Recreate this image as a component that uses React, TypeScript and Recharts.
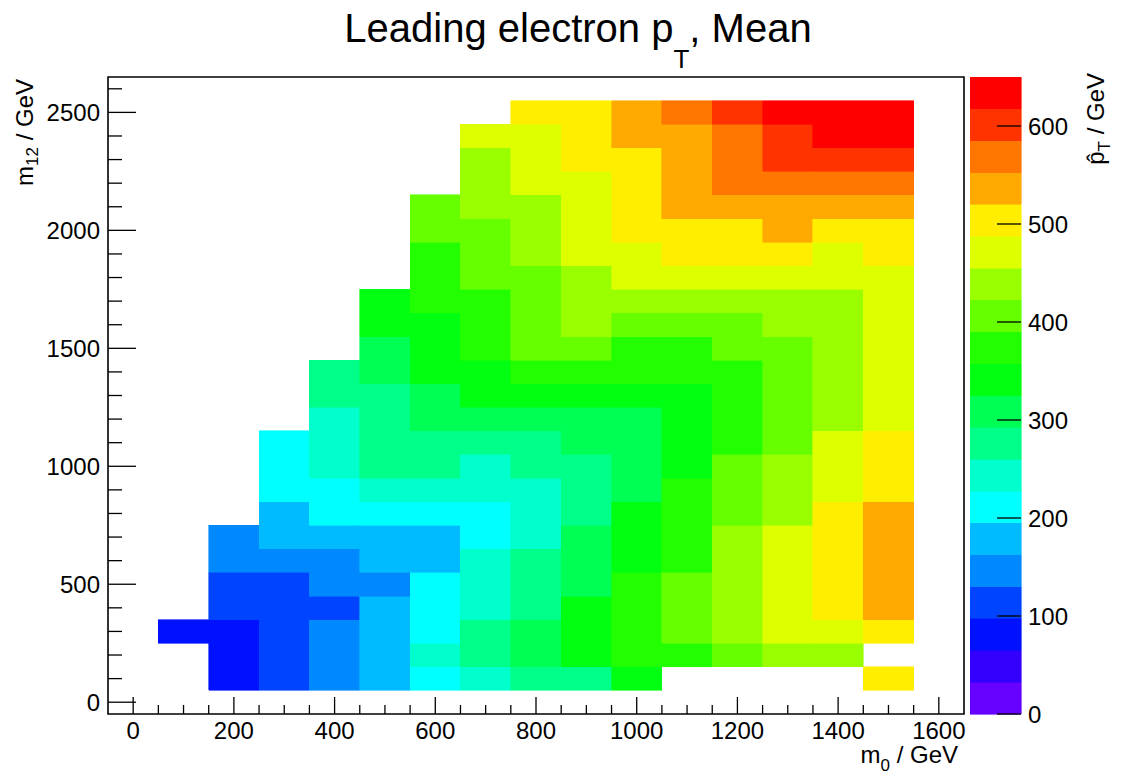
import React from 'react';
import { ComposedChart, XAxis, YAxis, Scatter, ReferenceArea } from 'recharts';

const FONT = '"Liberation Sans", Arial, Helvetica, sans-serif';

// bin centres
const m0Bins = [100, 200, 300, 400, 500, 600, 700, 800, 900, 1000, 1100, 1200, 1300, 1400, 1500];
const m12Bins = [
  100, 200, 300, 400, 500, 600, 700, 800, 900, 1000, 1100, 1200, 1300,
  1400, 1500, 1600, 1700, 1800, 1900, 2000, 2100, 2200, 2300, 2400, 2500,
];

const xTicks = [
  0, 50, 100, 150, 200, 250, 300, 350, 400, 450, 500, 550, 600, 650, 700, 750, 800,
  850, 900, 950, 1000, 1050, 1100, 1150, 1200, 1250, 1300, 1350, 1400, 1450, 1500, 1550, 1600,
];
const yTicks = [
  0, 100, 200, 300, 400, 500, 600, 700, 800, 900, 1000, 1100, 1200, 1300,
  1400, 1500, 1600, 1700, 1800, 1900, 2000, 2100, 2200, 2300, 2400, 2500, 2600,
];
const zTicks = [0, 100, 200, 300, 400, 500, 600];

// mean leading electron pT (GeV) per m0 column, from m12 = 100 (first) to 2500 (last)
const _ = null;
const pt_m0_100 = [_, _, 81, _, _, _, _, _, _, _, _, _, _, _, _, _, _, _, _, _, _, _, _, _, _];
const pt_m0_200 = [81, 81, 81, 114, 114, 146, 146, _, _, _, _, _, _, _, _, _, _, _, _, _, _, _, _, _, _];
const pt_m0_300 = [114, 114, 114, 114, 114, 146, 179, 179, 211, 211, 211, _, _, _, _, _, _, _, _, _, _, _, _, _, _];
const pt_m0_400 = [146, 146, 146, 114, 146, 146, 179, 211, 211, 244, 244, 244, 276, 276, _, _, _, _, _, _, _, _, _, _, _];
const pt_m0_500 = [179, 179, 179, 179, 146, 179, 179, 211, 244, 276, 276, 276, 276, 309, 309, 341, 341, _, _, _, _, _, _, _, _];
const pt_m0_600 = [211, 244, 211, 211, 211, 179, 179, 211, 244, 276, 276, 309, 309, 341, 341, 341, 374, 374, 374, 406, 406, _, _, _, _];
const pt_m0_700 = [244, 276, 276, 244, 244, 244, 211, 211, 244, 244, 276, 309, 341, 341, 374, 374, 374, 406, 406, 406, 439, 439, 439, 471, _];
const pt_m0_800 = [276, 309, 309, 276, 276, 276, 244, 244, 244, 276, 276, 309, 341, 374, 406, 406, 406, 406, 439, 439, 439, 471, 471, 471, 504];
const pt_m0_900 = [276, 341, 341, 341, 309, 309, 309, 276, 276, 276, 309, 309, 341, 374, 406, 439, 439, 439, 471, 471, 471, 471, 504, 504, 504];
const pt_m0_1000 = [341, 374, 374, 374, 374, 341, 341, 341, 309, 309, 309, 309, 341, 374, 374, 406, 439, 471, 471, 504, 504, 504, 504, 536, 536];
const pt_m0_1100 = [_, 374, 406, 406, 406, 374, 374, 374, 374, 341, 341, 341, 341, 374, 374, 406, 439, 471, 504, 504, 536, 536, 536, 536, 569];
const pt_m0_1200 = [_, 406, 439, 439, 439, 439, 439, 406, 406, 406, 374, 374, 374, 374, 406, 406, 439, 471, 504, 504, 536, 569, 569, 569, 601];
const pt_m0_1300 = [_, 439, 471, 471, 471, 471, 471, 439, 439, 439, 406, 406, 406, 406, 406, 439, 439, 471, 504, 536, 536, 569, 601, 601, 634];
const pt_m0_1400 = [_, 439, 471, 504, 504, 504, 504, 504, 471, 471, 471, 439, 439, 439, 439, 439, 439, 471, 471, 504, 536, 569, 601, 634, 634];
const pt_m0_1500 = [504, _, 504, 536, 536, 536, 536, 536, 504, 504, 504, 471, 471, 471, 471, 471, 471, 471, 504, 504, 536, 569, 601, 634, 634];

const columns = [
  pt_m0_100, pt_m0_200, pt_m0_300, pt_m0_400, pt_m0_500, pt_m0_600, pt_m0_700, pt_m0_800,
  pt_m0_900, pt_m0_1000, pt_m0_1100, pt_m0_1200, pt_m0_1300, pt_m0_1400, pt_m0_1500,
];

// ROOT-like rainbow palette, 20 contours from 0 to 650
const PALETTE = [
  '#6600ff', '#3300ff', '#0011ff', '#0044ff', '#0088ff', '#00bbff', '#00ffff', '#00ffcc',
  '#00ff88', '#00ff55', '#00ff11', '#22ff00', '#66ff00', '#99ff00', '#ddff00', '#ffee00',
  '#ffaa00', '#ff7700', '#ff3300', '#ff0000',
];
const ZMAX = 650;
const STEP = ZMAX / PALETTE.length;

const colorFor = (v: number) => PALETTE[Math.min(PALETTE.length - 1, Math.floor(v / STEP))];

const cells: { x: number; y: number; z: number }[] = [];
m0Bins.forEach((m0, i) => {
  columns[i].forEach((v, j) => {
    if (v != null) cells.push({ x: m0, y: m12Bins[j], z: v });
  });
});

const bands = PALETTE.map((col, i) => ({ x: 0.5, lo: i * STEP, hi: (i + 1) * STEP, y: (i + 0.5) * STEP, col }));

const XTick = (props: any) => {
  const { x, y, payload } = props;
  const major = payload.value % 200 === 0;
  return (
    <g>
      <line x1={x} x2={x} y1={y} y2={y - (major ? 17 : 9)} stroke="#000" strokeWidth={1.3} />
      {major && (
        <text x={x} y={y + 25} textAnchor="middle" fontSize={24} fill="#000" fontFamily={FONT}>
          {payload.value}
        </text>
      )}
    </g>
  );
};

const YTick = (props: any) => {
  const { x, y, payload } = props;
  const major = payload.value % 500 === 0;
  return (
    <g>
      <line x1={x} x2={x + (major ? 28 : 14)} y1={y} y2={y} stroke="#000" strokeWidth={1.3} />
      {major && (
        <text x={x - 8} y={y + 8.5} textAnchor="end" fontSize={24} fill="#000" fontFamily={FONT}>
          {payload.value}
        </text>
      )}
    </g>
  );
};

const ZTick = (props: any) => {
  const { x, y, payload } = props;
  return (
    <g>
      <line x1={x} x2={x - 24} y1={y} y2={y} stroke="#000" strokeWidth={1.3} />
      <text x={x + 7} y={y + 8.5} textAnchor="start" fontSize={24} fill="#000" fontFamily={FONT}>
        {payload.value}
      </text>
    </g>
  );
};

const App: React.FC = () => {
  return (
    <div style={{ position: 'absolute', left: 0, top: 0, width: 1127, height: 776, background: '#fff' }}>
      {/* main 2D histogram */}
      <div style={{ position: 'absolute', left: 0, top: 0 }}>
        <ComposedChart width={1127} height={776} margin={{ top: 77, right: 163, bottom: 32, left: 48 }}>
          <XAxis
            type="number"
            dataKey="x"
            domain={[-50, 1650]}
            ticks={xTicks}
            interval={0}
            allowDataOverflow
            axisLine={false}
            tickLine={false}
            tickSize={0}
            tickMargin={0}
            height={30}
            tick={XTick}
          />
          <YAxis
            type="number"
            dataKey="y"
            domain={[-50, 2650]}
            ticks={yTicks}
            interval={0}
            allowDataOverflow
            axisLine={false}
            tickLine={false}
            tickSize={0}
            tickMargin={0}
            width={60}
            tick={YTick}
          />
          {cells.map((c, i) => (
            <ReferenceArea
              key={i}
              x1={c.x - 50}
              x2={c.x + 50}
              y1={c.y - 50}
              y2={c.y + 50}
              fill={colorFor(c.z)}
              fillOpacity={1}
              stroke={colorFor(c.z)}
              strokeWidth={0.6}
              shapeRendering="crispEdges"
            />
          ))}
          <Scatter data={cells} dataKey="y" fill="none" shape={() => <g />} isAnimationActive={false} />
          <ReferenceArea x1={-50} x2={1650} y1={-50} y2={2650} fill="none" stroke="#000" strokeWidth={1.6} />
        </ComposedChart>
      </div>

      {/* colour scale */}
      <div style={{ position: 'absolute', left: 970, top: 0 }}>
        <ComposedChart width={157} height={776} margin={{ top: 77, right: 46, bottom: 62, left: 0 }}>
          <XAxis type="number" dataKey="x" domain={[0, 1]} hide />
          <YAxis
            type="number"
            dataKey="y"
            orientation="right"
            domain={[0, ZMAX]}
            ticks={zTicks}
            interval={0}
            allowDataOverflow
            axisLine={false}
            tickLine={false}
            tickSize={0}
            tickMargin={0}
            width={60}
            tick={ZTick}
          />
          {bands.map((b) => (
            <ReferenceArea
              key={b.col}
              x1={0}
              x2={1}
              y1={b.lo}
              y2={b.hi}
              fill={b.col}
              fillOpacity={1}
              stroke={b.col}
              strokeWidth={0.6}
              shapeRendering="crispEdges"
            />
          ))}
          <Scatter data={bands} dataKey="y" fill="none" shape={() => <g />} isAnimationActive={false} />
        </ComposedChart>
      </div>

      {/* titles */}
      <svg width={1127} height={776} style={{ position: 'absolute', left: 0, top: 0, pointerEvents: 'none' }}>
        <text x={578} y={42} textAnchor="middle" fontSize={40} fill="#000" fontFamily={FONT}>
          Leading electron p
          <tspan fontSize={26} dy={26}>T</tspan>
          <tspan dy={-26}>, Mean</tspan>
        </text>
        <text x={958} y={763} textAnchor="end" fontSize={24} fill="#000" fontFamily={FONT}>
          m<tspan fontSize={17} dy={8}>0</tspan>
          <tspan dy={-8}> / GeV</tspan>
        </text>
        <text transform="translate(33,79) rotate(-90)" textAnchor="end" fontSize={24} fill="#000" fontFamily={FONT}>
          m<tspan fontSize={17} dy={5}>12</tspan>
          <tspan dy={-5}> / GeV</tspan>
        </text>
        <text transform="translate(1104,73) rotate(-90)" textAnchor="end" fontSize={24} fill="#000" fontFamily={FONT}>
          {'p\u0302'}
          <tspan fontSize={17} dy={6}>T</tspan>
          <tspan dy={-6}> / GeV</tspan>
        </text>
      </svg>
    </div>
  );
};

export default App;
